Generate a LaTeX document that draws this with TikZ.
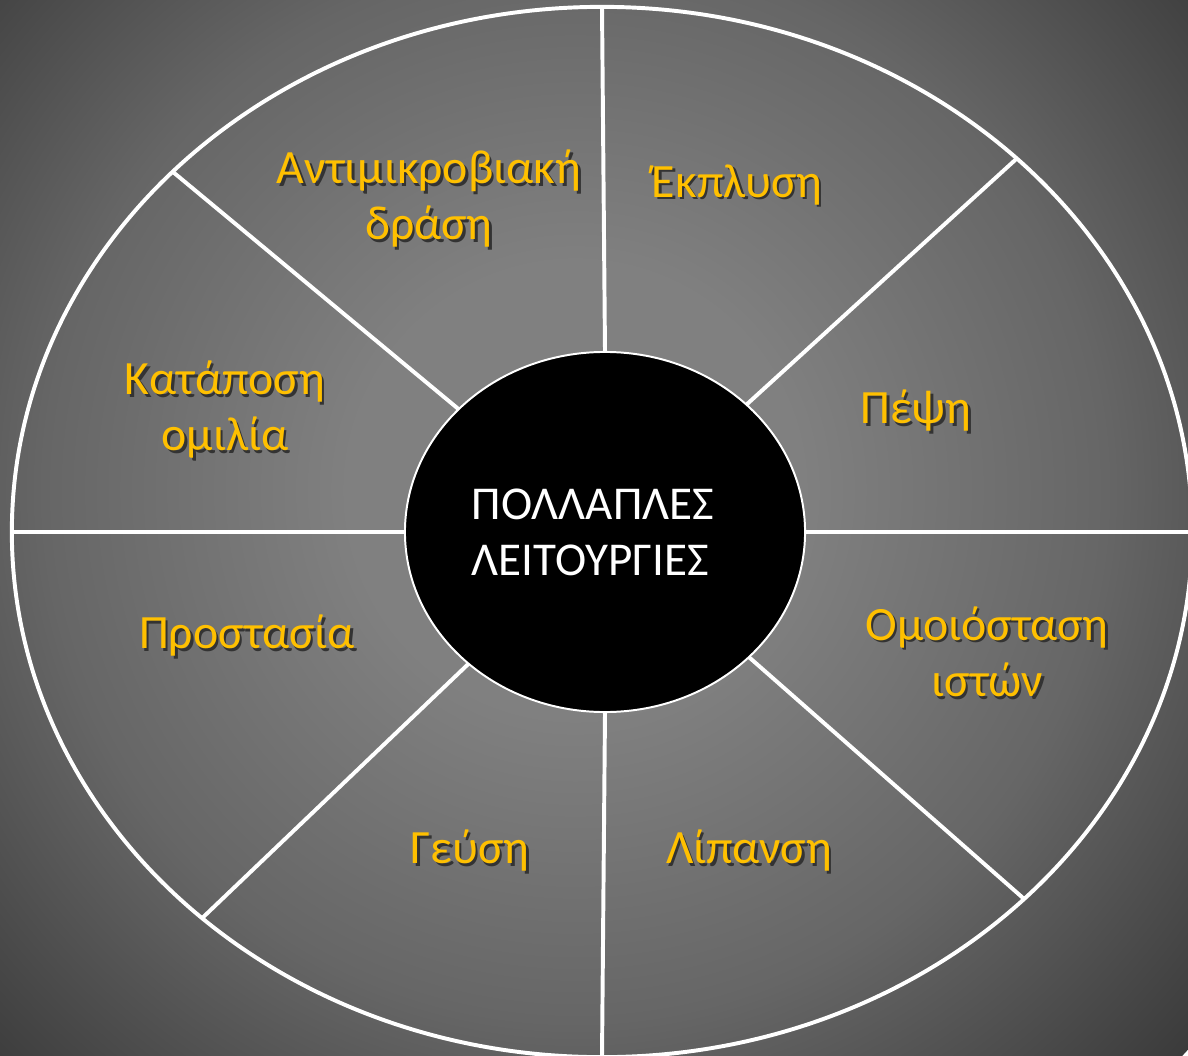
\documentclass[tikz,border=0pt]{standalone}
\usepackage{fontspec}
\setmainfont{Carlito}
\usetikzlibrary{shapes.geometric}

\definecolor{labelgold}{HTML}{FFC000}
\definecolor{bglight}{gray}{0.50}
\definecolor{bgmid}{gray}{0.40}
\definecolor{bgdark}{gray}{0.23}
\pgfdeclareradialshading{bgglow}{\pgfpoint{0bp}{0bp}}{color(0bp)=(bglight); color(7bp)=(bglight); color(16bp)=(bgmid); color(25bp)=(bgdark); color(50bp)=(bgdark)}

\newcommand{\shadowed}[1]{\leavevmode\rlap{\kern1.8pt\raisebox{-1.8pt}{\color{black!80}#1}}#1}

\begin{document}
\begin{tikzpicture}[x=0.025cm,y=-0.025cm,
  rim/.style={ellipse,draw=white,line width=2.8pt,outer sep=0pt,minimum width=29.5cm,minimum height=26.25cm},
  core/.style={ellipse,draw=white,fill=black,line width=1.4pt,outer sep=0pt,minimum width=10cm,minimum height=9cm,
    text=white,text width=6.65cm,align=left,font=\fontsize{33.5}{40}\selectfont},
  func/.style={text=labelgold,align=center,font=\fontsize{34}{40}\selectfont},
  every edge/.style={draw=white,line width=2.8pt}]

  \useasboundingbox (0,0) rectangle (1188,1056);
  \begin{scope}
    \clip (0,0) rectangle (1188,1056);
    \shade[shading=bgglow] (575,490) circle (830);
  \end{scope}

  \node[rim] (rim) at (602,532) {};
  \node[core] (core) at (605,532) {ΠΟΛΛΑΠΛΕΣ\\ΛΕΙΤΟΥΡΓΙΕΣ};

  \path (core.90)  edge (rim.90)
        (core.42)  edge (rim.42)
        (core.0)   edge (rim.0)
        (core.319) edge (rim.319)
        (core.270) edge (rim.270)
        (core.224) edge (rim.224)
        (core.180) edge (rim.180)
        (core.140) edge (rim.140);

  \node[func] (antimicro) at (429,200) {\shadowed{Αντιμικροβιακή}\\\shadowed{δράση}};
  \node[func] (ekplysi)   at (737,186) {\shadowed{Έκπλυση}};
  \node[func] (pepsi)     at (916,412) {\shadowed{Πέψη}};
  \node[func] (omoio)     at (987,653) {\shadowed{Ομοιόσταση}\\\shadowed{ιστών}};
  \node[func] (lipansi)   at (749,852) {\shadowed{Λίπανση}};
  \node[func] (geusi)     at (470,852) {\shadowed{Γεύση}};
  \node[func] (prostasia) at (247,637) {\shadowed{Προστασία}};
  \node[func] (katapos)   at (225,411) {\shadowed{Κατάποση}\\\shadowed{ομιλία}};

\end{tikzpicture}
\end{document}
